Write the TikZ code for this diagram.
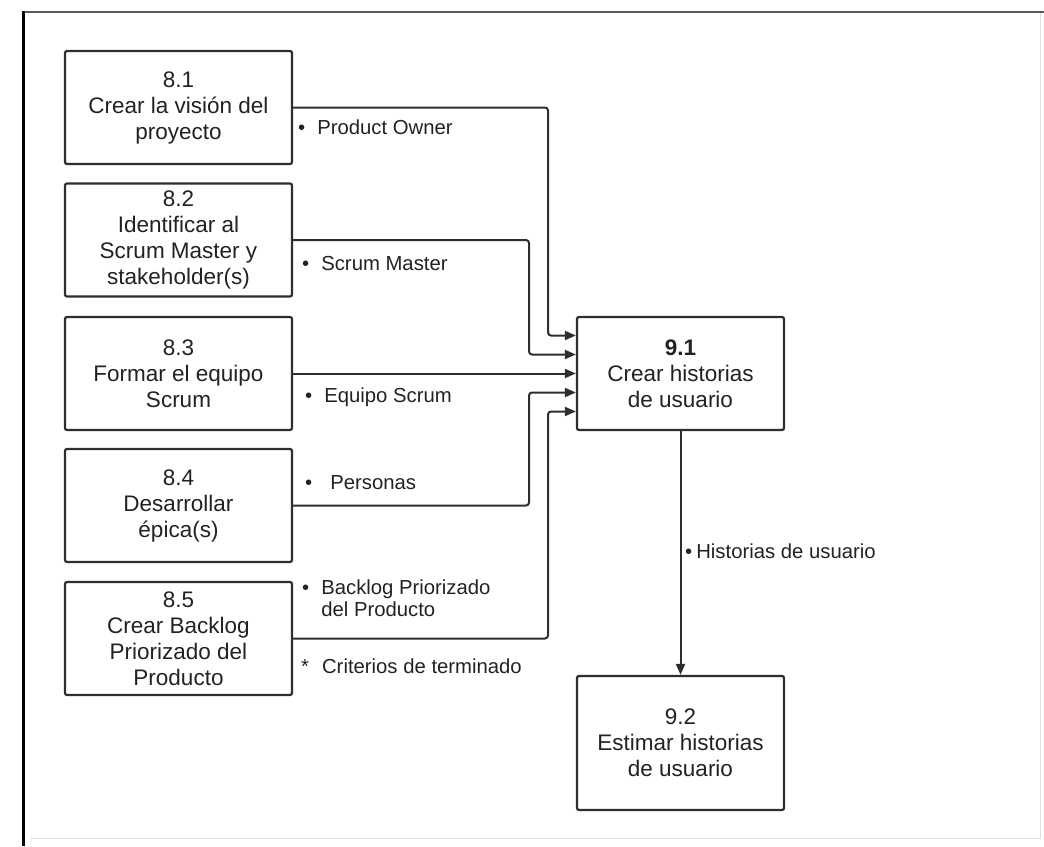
\documentclass[tikz,border=0pt]{standalone}
\usepackage{fontspec}
\setmainfont{Liberation Sans}
\usetikzlibrary{arrows.meta}

\definecolor{ink}{HTML}{222222}
\definecolor{edge}{HTML}{2E2E2E}

\tikzset{
  procbox/.style={draw=edge, line width=2.2pt, rounded corners=2pt, fill=white,
    minimum width=227pt, minimum height=113pt, align=center, inner sep=4pt,
    text=ink, font=\fontsize{22.5}{26}\selectfont},
  conn/.style={draw=edge, line width=2pt, rounded corners=3pt,
    -{Triangle[length=11pt,width=9pt]}},
  flowlabel/.style={anchor=west, text=ink, inner sep=0pt,
    font=\fontsize{20.3}{21.5}\selectfont, align=left}
}

\begin{document}
\begin{tikzpicture}[x=1pt,y=-1pt]
  \useasboundingbox (0,0) rectangle (1044,846);

  % frame around the sheet
  \draw[gray!25, line width=1pt] (30,838) -- (1040,838) -- (1040,12);
  \draw[gray!70!black, line width=2.5pt] (22,12) -- (1044,12);
  \draw[black, line width=3pt] (23,11) -- (23,846);

  % source processes
  \node[procbox] (b81) at (178.5,107.5) {8.1\\Crear la visión del\\proyecto};
  \node[procbox] (b82) at (178.5,240)   {8.2\\Identificar al\\Scrum Master y\\stakeholder(s)};
  \node[procbox] (b83) at (178.5,373.5) {8.3\\Formar el equipo\\Scrum};
  \node[procbox] (b84) at (178.5,505.5) {8.4\\Desarrollar\\épica(s)};
  \node[procbox] (b85) at (178.5,638.5) {8.5\\Crear Backlog\\Priorizado del\\Producto};

  % target processes
  \node[procbox, minimum width=207pt] (b91) at (680.5,373.5)
    {\textbf{9.1}\\Crear historias\\de usuario};
  \node[procbox, minimum width=207pt, minimum height=134pt] (b92) at (680.5,743)
    {9.2\\Estimar historias\\de usuario};

  % entry points on the left side of 9.1 and the two vertical lanes
  \coordinate (i1) at ([yshift=38pt]b91.west);
  \coordinate (i2) at ([yshift=19pt]b91.west);
  \coordinate (i3) at (b91.west);
  \coordinate (i4) at ([yshift=-19pt]b91.west);
  \coordinate (i5) at ([yshift=-38pt]b91.west);
  \coordinate (lane1) at (548,0);
  \coordinate (lane2) at (529,0);

  % inputs into 9.1
  \draw[conn] (b81.east) -| (lane1 |- i1) -- (i1);
  \draw[conn] (b82.east) -| (lane2 |- i2) -- (i2);
  \draw[conn] (b83.east) -- (i3);
  \draw[conn] (b84.east) -| (lane2 |- i4) -- (i4);
  \draw[conn] (b85.east) -| (lane1 |- i5) -- (i5);

  % output of 9.1
  \draw[conn] (b91.south) -- (b92.north);

  % artefacts carried by each flow
  \node[flowlabel] (l1) at (298,127) {•\hspace{12pt}Product Owner};
  \node[flowlabel] (l2) at (302,264) {•\hspace{12pt}Scrum Master};
  \node[flowlabel] (l3) at (305,397) {•\hspace{12pt}Equipo Scrum};
  \node[flowlabel] (l4) at (305,483) {•\hspace{18pt}Personas};
  \node[flowlabel] (l5) at (302,601)
    {\begin{tabular}{@{}l@{\hspace{12pt}}l@{}}•&Backlog Priorizado\\&del Producto\end{tabular}};
  \node[flowlabel] (l6) at (301,666) {*\hspace{13pt}Criterios de terminado};
  \node[flowlabel] (l7) at (685,551) {•\hspace{4pt}Historias de usuario};
\end{tikzpicture}
\end{document}
